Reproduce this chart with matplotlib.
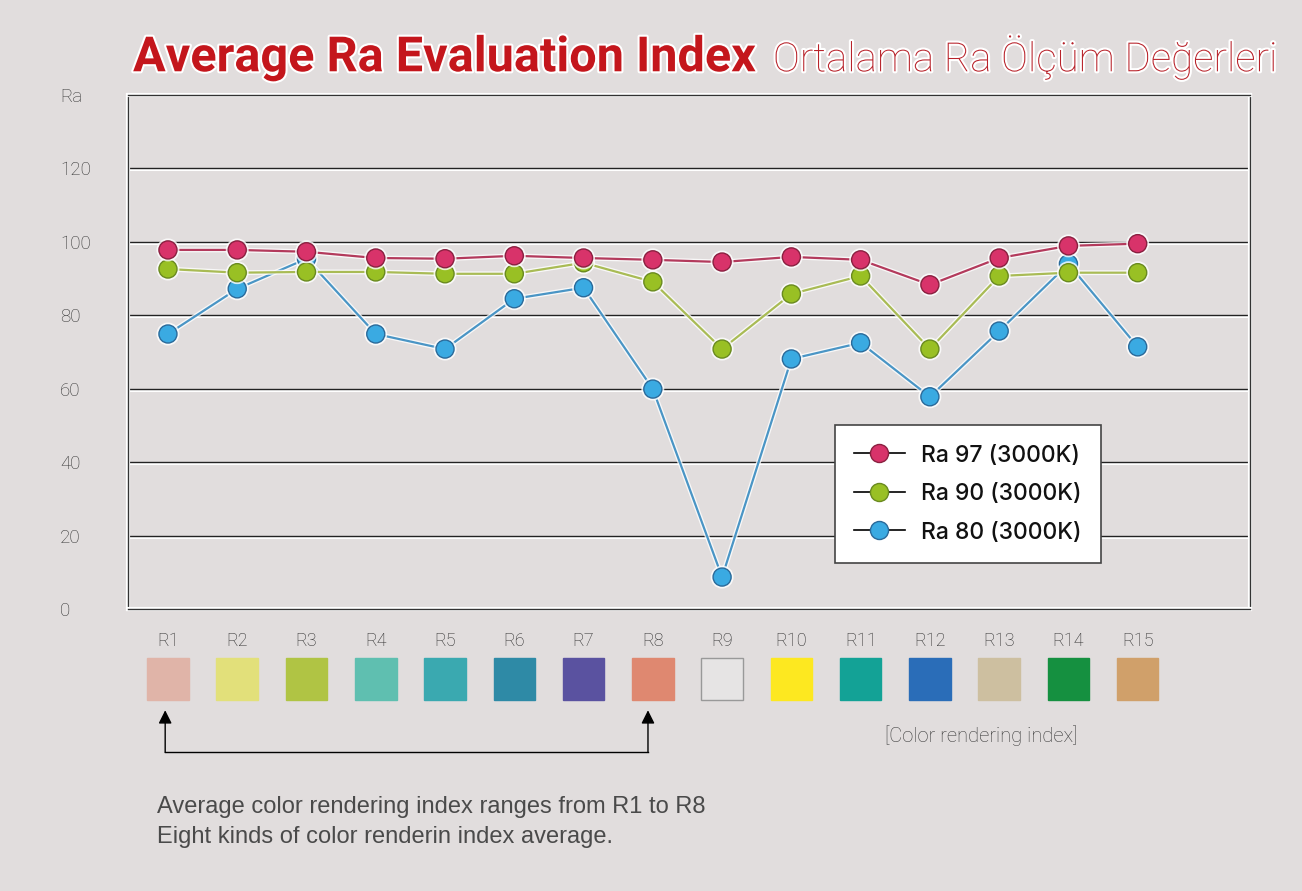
import matplotlib
matplotlib.use('Agg')
import matplotlib.pyplot as plt
import matplotlib.patheffects as pe
import matplotlib.transforms as mtrans
from matplotlib.patches import Rectangle
from matplotlib.lines import Line2D

bg = '#e1dddd'

# R1 ~ R15 color rendering index
idx = ['R1', 'R2', 'R3', 'R4', 'R5', 'R6', 'R7', 'R8',
       'R9', 'R10', 'R11', 'R12', 'R13', 'R14', 'R15']
ra97 = [97.8, 97.8, 97.3, 95.6, 95.4, 96.2, 95.6, 95.1, 94.5, 95.9, 95.1, 88.3, 95.6, 98.9, 99.5]
ra90 = [92.6, 91.6, 91.8, 91.8, 91.3, 91.3, 94.3, 89.1, 70.8, 85.8, 90.7, 70.8, 90.7, 91.6, 91.6]
ra80 = [74.9, 87.2, 95.4, 74.9, 70.8, 84.5, 87.5, 59.9, 8.7, 68.1, 72.5, 57.8, 75.7, 94.0, 71.4]
swatch = ['#e0b4a8', '#e2e07a', '#b0c444', '#5fbfb0', '#3aa9b0', '#2e8aa6', '#5a52a0', '#df8870',
          '#e6e4e4', '#fde820', '#13a296', '#2a6db8', '#cdbfa0', '#159040', '#d0a06a']
yticks = [0, 20, 40, 60, 80, 100, 120, 140]
ylabels = ['0', '20', '40', '60', '80', '100', '120', 'Ra']

series = [
    ('Ra 80 (3000K)', ra80, '#4a95c5', '#3aaae2', '#2a6a9a'),
    ('Ra 90 (3000K)', ra90, '#a9bb55', '#99c024', '#6a8a20'),
    ('Ra 97 (3000K)', ra97, '#b33a5c', '#d8336a', '#8a2040'),
]

fig = plt.figure(figsize=(13.02, 8.91), dpi=100, facecolor=bg)
ax = fig.add_axes([0.0983, 0.3165, 0.8617, 0.5769])
ax.set_facecolor(bg)

x = list(range(1, len(idx) + 1))
halo = [pe.Stroke(linewidth=3.5, foreground='white', alpha=0.8), pe.Normal()]
for name, vals, lc, fc, ec in series:
    ax.plot(x, vals, color=lc, lw=1.6, marker='o', markersize=13,
            markerfacecolor=fc, markeredgecolor=ec, markeredgewidth=1,
            path_effects=halo, zorder=3)

ax.set_xlim(0.423, 16.62)
ax.set_ylim(0, 140)
ax.set_xticks([])
ax.set_yticks(yticks)
ax.set_yticklabels(ylabels, fontsize=13.5, color='#333333', family='Roboto', weight='light')
ax.tick_params(axis='y', length=0, pad=49)
for lbl in ax.get_yticklabels():
    lbl.set_horizontalalignment('left')

# grid lines: dark line with white line underneath
for v in yticks[1:-1]:
    ax.axhline(v, color='#222222', lw=1, zorder=1,
               path_effects=[pe.SimpleLineShadow(offset=(0, -1.5), shadow_color='white', alpha=1, linewidth=1.5),
                             pe.Normal()])
for s in ax.spines.values():
    s.set_color('#333333')
    s.set_linewidth(1)
    s.set_path_effects([pe.Stroke(linewidth=3, foreground='white'), pe.Normal()])

# legend
handles = [Line2D([], [], color='black', lw=1.2, marker='o', markersize=13,
                  markerfacecolor=fc, markeredgecolor=ec)
           for name, vals, lc, fc, ec in series[::-1]]
leg = ax.legend(handles, [s[0] for s in series[::-1]], loc='lower left',
                bbox_to_anchor=(0.630, 0.0895), borderaxespad=0, fancybox=False,
                framealpha=1, facecolor='white', edgecolor='#444444',
                prop={'family': 'Inter', 'size': 16.5, 'weight': 'medium'},
                borderpad=0.85, labelspacing=0.72, handlelength=2.2, handletextpad=0.7)
leg.get_frame().set_linewidth(1.2)
for t in leg.get_texts():
    t.set_color('#111111')

# color swatches under the chart
trans = mtrans.blended_transform_factory(ax.transData, ax.transAxes)
for xi, name, col in zip(x, idx, swatch):
    ax.text(xi, -0.062, name, transform=trans, ha='center', va='center',
            fontsize=13, color='#2a2a2a', family='Roboto', weight='light')
    ax.add_patch(Rectangle((xi - 0.3, -0.177), 0.6, 0.0817, transform=trans,
                           facecolor=col, edgecolor='#999999' if name == 'R9' else col,
                           lw=1, clip_on=False))

# R1 - R8 bracket
for xi in (0.96, 7.93):
    ax.annotate('', xy=(xi, -0.197), xytext=(xi, -0.279), xycoords=trans, textcoords=trans,
                arrowprops=dict(arrowstyle='-|>', color='black', lw=1, mutation_scale=20,
                                shrinkA=0, shrinkB=0))
ax.plot([0.96, 7.93], [-0.279, -0.279], transform=trans, color='black', lw=1, clip_on=False)

fig.text(0.7535, 0.174, '[Color rendering index]', ha='center', va='center',
         fontsize=14.5, color='#3a3a3a', family='Roboto', weight='light')

fig.text(0.1206, 0.0875, 'Average color rendering index ranges from R1 to R8',
         fontsize=17, color='#4a4a4a', family='Liberation Sans', va='baseline')
fig.text(0.1206, 0.054, 'Eight kinds of color renderin index average.',
         fontsize=17, color='#4a4a4a', family='Liberation Sans', va='baseline')

# title
white = [pe.withStroke(linewidth=3, foreground='white')]
fig.text(133 / 1302, 0.920, 'Average Ra Evaluation Index', fontsize=35, weight='bold',
         color='#c4161c', family='Roboto', va='baseline', path_effects=white)
fig.text(773 / 1302, 0.920, 'Ortalama Ra Ölçüm Değerleri', fontsize=29, weight='light',
         color='#b8222a', family='Roboto', va='baseline', path_effects=white)

fig.savefig('out.png', dpi=100, facecolor=bg)
